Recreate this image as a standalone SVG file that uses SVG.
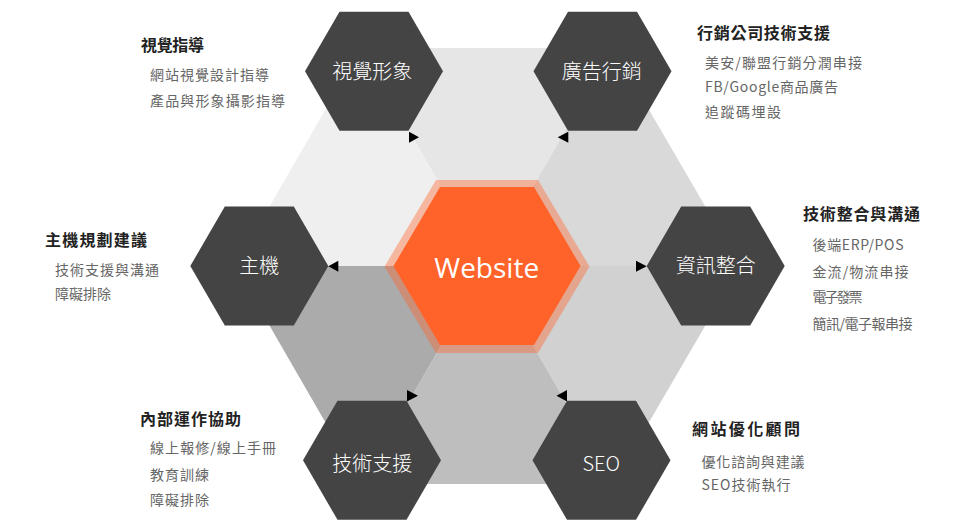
<svg xmlns="http://www.w3.org/2000/svg" width="960" height="530" viewBox="0 0 960 530">
<defs>
<style>
.node{fill:#444444}
.lbl{fill:#ffffff;font-family:"Noto Sans CJK TC","Noto Sans",sans-serif;font-size:20px;font-weight:300;text-anchor:middle}
.hd{fill:#222222;font-family:"Noto Sans CJK TC","Noto Sans",sans-serif;font-size:16px;font-weight:700}
.sub{fill:#666666;font-family:"Noto Sans CJK TC","Noto Sans",sans-serif;font-size:14px}
.arr{fill:#000000}
</style>
<polygon id="hex" points="-69,0 -34.5,-59.5 34.5,-59.5 69,0 34.5,59.5 -34.5,59.5"/>
</defs>
<rect width="960" height="530" fill="#ffffff"/>
<g id="background">
<polygon points="487,266 361,48 613,48" fill="#e6e6e6"/>
<polygon points="487,266 613,48 740,266" fill="#d9d9d9"/>
<polygon points="487,266 740,266 613,484" fill="#d1d1d1"/>
<polygon points="487,266 613,484 361,484" fill="#bebebe"/>
<polygon points="487,266 361,484 235,266" fill="#ababab"/>
<polygon points="487,266 235,266 361,48" fill="#efefef"/>
</g>
<g id="website">
<polygon points="384.5,266.5 436,180 538,180 589.5,266.5 538,353 436,353" fill="#ff6329" fill-opacity="0.4"/>
<polygon points="393.5,266 440,187 534,187 580.5,266 534,345 440,345" fill="#ff6329"/>
<text x="486.7" y="278.3" fill="#ffffff" font-family="'Open Sans','Noto Sans',sans-serif" font-size="28" font-weight="400" text-anchor="middle">Website</text>
</g>
<g id="connectors">
<polygon class="arr" points="409,131.7 419,137.2 409,142.7"/>
<polygon class="arr" points="568.3,131.7 557.7,137.2 568.3,142.7"/>
<polygon class="arr" points="338.3,260.7 328.3,266.2 338.3,271.7"/>
<polygon class="arr" points="636,260.7 646.7,266.2 636,271.7"/>
<polygon class="arr" points="407,390 418,395.8 407,401.6"/>
<polygon class="arr" points="567,390 556.5,395.8 567,401.6"/>
</g>
<g id="node-visual">
<use href="#hex" x="374" y="71.3" class="node"/>
<text class="lbl" x="372.2" y="79.3">視覺形象</text>
</g>
<g id="node-ads">
<use href="#hex" x="602.5" y="71.3" class="node"/>
<text class="lbl" x="601.7" y="79.3">廣告行銷</text>
</g>
<g id="node-host">
<use href="#hex" x="259.3" y="266" class="node"/>
<text class="lbl" x="259.3" y="273">主機</text>
</g>
<g id="node-integration">
<use href="#hex" x="715.7" y="266" class="node"/>
<text class="lbl" x="715.7" y="273">資訊整合</text>
</g>
<g id="node-support">
<use href="#hex" x="372" y="460.3" class="node"/>
<text class="lbl" x="372.2" y="471">技術支援</text>
</g>
<g id="node-seo">
<use href="#hex" x="601.5" y="460.3" class="node"/>
<text class="lbl" x="601.3" y="470.7" font-family="'Open Sans','Noto Sans',sans-serif">SEO</text>
</g>
<g id="desc-visual">
<text class="hd" x="141" y="51.3" textLength="63" lengthAdjust="spacing">視覺指導</text>
<text class="sub" x="150" y="80" textLength="119" lengthAdjust="spacing">網站視覺設計指導</text>
<text class="sub" x="150" y="106.2" textLength="135" lengthAdjust="spacing">產品與形象攝影指導</text>
</g>
<g id="desc-ads">
<text class="hd" x="697" y="39.3" textLength="133" lengthAdjust="spacing">行銷公司技術支援</text>
<text class="sub" x="705" y="67.8" textLength="157" lengthAdjust="spacing">美安/聯盟行銷分潤串接</text>
<text class="sub" x="705" y="92" textLength="133" lengthAdjust="spacing">FB/Google商品廣告</text>
<text class="sub" x="705" y="117" textLength="76" lengthAdjust="spacing">追蹤碼埋設</text>
</g>
<g id="desc-host">
<text class="hd" x="45" y="245.8" textLength="102" lengthAdjust="spacing">主機規劃建議</text>
<text class="sub" x="55" y="275.3" textLength="104" lengthAdjust="spacing">技術支援與溝通</text>
<text class="sub" x="55" y="298.7" textLength="56" lengthAdjust="spacing">障礙排除</text>
</g>
<g id="desc-integration">
<text class="hd" x="803" y="219.8" textLength="117" lengthAdjust="spacing">技術整合與溝通</text>
<text class="sub" x="812.5" y="250.3" textLength="91" lengthAdjust="spacing">後端ERP/POS</text>
<text class="sub" x="812.5" y="277" textLength="96" lengthAdjust="spacing">金流/物流串接</text>
<text class="sub" x="812.5" y="302" textLength="50" lengthAdjust="spacing">電子發票</text>
<text class="sub" x="812.5" y="328.7" textLength="100" lengthAdjust="spacing">簡訊/電子報串接</text>
</g>
<g id="desc-support">
<text class="hd" x="140" y="425.2" textLength="101" lengthAdjust="spacing">內部運作協助</text>
<text class="sub" x="150" y="453.3" textLength="126" lengthAdjust="spacing">線上報修/線上手冊</text>
<text class="sub" x="150" y="480.3" textLength="59" lengthAdjust="spacing">教育訓練</text>
<text class="sub" x="150" y="505.3" textLength="59" lengthAdjust="spacing">障礙排除</text>
</g>
<g id="desc-seo">
<text class="hd" x="692" y="434.8" textLength="108" lengthAdjust="spacing">網站優化顧問</text>
<text class="sub" x="701.5" y="467" textLength="103" lengthAdjust="spacing">優化諮詢與建議</text>
<text class="sub" x="701.5" y="490.3" textLength="89" lengthAdjust="spacing">SEO技術執行</text>
</g>
</svg>
